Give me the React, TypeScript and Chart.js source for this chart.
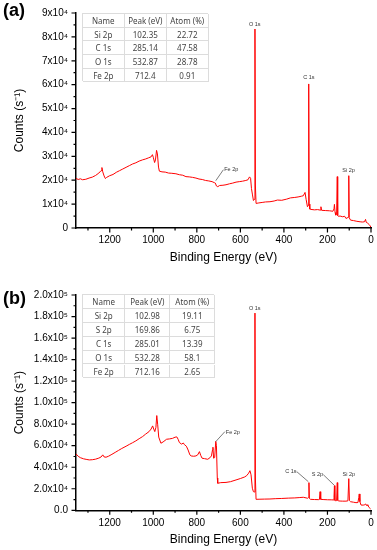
import { useEffect, useRef } from 'react';
import { Chart, registerables } from 'chart.js';

Chart.register(...registerables);

// ---------- Panel (a) spectrum ----------
const energyA = [
  1355, 1345, 1335, 1325, 1310, 1295, 1280, 1265, 1250, 1240, 1236, 1232, 1226, 1220, 1214,
  1200, 1185, 1170, 1155, 1140, 1125, 1110, 1095, 1080, 1065, 1050, 1035, 1021, 1010, 1004,
  1000, 994, 990, 985, 981, 976, 972, 960, 945, 930, 915, 896, 880, 865, 850, 835, 820, 804,
  790, 775, 760, 745, 730, 720, 715, 710, 704, 695, 680, 666, 650, 635, 620, 605, 590, 575,
  565, 558, 553, 549, 545, 540, 536, 533, 531, 528, 515, 500, 485, 464, 445, 430, 410, 387,
  370, 350, 335, 320, 311, 303, 298, 292, 288, 286, 284, 281, 277, 260, 245, 234, 230, 227,
  210, 190, 175, 170, 168, 165, 162, 158, 155, 153, 150, 142, 130, 121, 115, 110, 104, 102,
  100, 94, 80, 65, 50, 40, 30, 25, 22, 15, 8, 4, 0,
];
const countsA = [
  20800, 20300, 20600, 20200, 20400, 20900, 21300, 22000, 23000, 24000, 25300, 23500, 21800, 20700, 21200,
  21900, 22400, 23300, 24000, 24700, 25400, 26100, 26800, 27300, 28000, 28500, 28900, 29400, 29800, 30700,
  29600, 27400, 28500, 32500, 31000, 25500, 23800, 23500, 23400, 23000, 22900, 22700, 22300, 22100, 21500, 21400, 21200, 20900,
  20500, 20300, 19900, 19700, 19400, 19000, 18800, 17600, 17300, 17800, 17900, 18100, 18500, 18800, 19200, 19400, 19600, 19900,
  20200, 21400, 20800, 16500, 14200, 11500, 12000, 83300, 18000, 10300, 10500, 10700, 10900, 11000, 11300, 11700, 11600, 12100,
  12600, 12800, 13000, 13300, 13500, 14900, 12000, 8900, 9500, 60300, 10000, 7900, 7800, 7600, 7700, 7500, 8900, 7400,
  7300, 7200, 7000, 8000, 9900, 6500, 5400, 5600, 21500, 5200, 4900, 5000, 4700, 4900, 4000, 4200, 4500, 21900,
  4300, 3300, 3100, 2800, 2600, 2500, 2600, 3600, 2400, 2000, 1400, 900, 300,
];

// ---------- Panel (b) spectrum ----------
const energyB = [
  1355, 1345, 1335, 1320, 1305, 1294, 1280, 1265, 1250, 1240, 1232, 1226, 1217, 1205, 1190,
  1175, 1160, 1145, 1125, 1110, 1095, 1080, 1065, 1049, 1035, 1020, 1010, 1003, 998, 993,
  988, 984, 980, 975, 965, 955, 939, 926, 912, 900, 892, 886, 880, 870, 862, 857, 848, 840,
  832, 826, 815, 804, 796, 788, 782, 776, 765, 750, 740, 733, 728, 726, 723, 718, 713, 710,
  706, 704, 690, 666, 645, 620, 600, 580, 571, 562, 556, 551, 545, 540, 536, 533, 531, 528,
  510, 490, 464, 440, 410, 380, 350, 330, 311, 291, 287, 285, 283, 278, 260, 240, 237, 234,
  231, 220, 200, 180, 173, 170, 168, 166, 162, 158, 155, 153, 148, 142, 130, 115, 106, 102,
  99, 94, 80, 69, 60, 56, 54, 51, 46, 36, 28, 24, 21, 17, 14, 8, 3, 0,
];
const countsB = [
  52400, 50200, 48900, 47800, 47200, 46800, 47000, 47500, 48500, 49500, 51500, 49600, 49300, 50300, 52000,
  53800, 55600, 57400, 59500, 61200, 62800, 64500, 66500, 68500, 70800, 73000, 75500, 78400, 75500, 73100,
  77000, 88000, 80000, 68000, 62300, 63500, 66000, 66300, 66800, 67900, 68200, 66000, 62900, 61500, 62500, 61000, 59500, 56000,
  51500, 50500, 50200, 50500, 51500, 54500, 51000, 48400, 48000, 47400, 48800, 50500, 56000, 58600, 48400, 49000, 64000, 60000,
  30000, 25100, 25700, 25900, 26600, 28200, 29500, 31000, 32200, 34500, 36800, 33000, 20500, 17300, 17000, 183200, 30000, 10200,
  10300, 10400, 10500, 10800, 11000, 11300, 11500, 11800, 12100, 11200, 12000, 25700, 11000, 10200, 10000, 9900, 10000, 17300,
  10200, 10000, 9800, 9700, 9600, 12000, 22900, 9200, 8900, 9000, 25700, 9200, 8700, 8600, 8500, 8500, 8800, 29400,
  9000, 8000, 7500, 7100, 7200, 12000, 15200, 8000, 4900, 4800, 5200, 5900, 4500, 5100, 4200, 2500, 1500, 900,
];

// ---------- Axis tick labels ----------
const xMajorTicks = [1200, 1000, 800, 600, 400, 200, 0];
const xTickLabels = ['1200', '1000', '800', '600', '400', '200', '0'];
const yMajorTicksA = [0, 10000, 20000, 30000, 40000, 50000, 60000, 70000, 80000, 90000];
const yTickLabelsA = ['0', '1x10⁴', '2x10⁴', '3x10⁴', '4x10⁴', '5x10⁴', '6x10⁴', '7x10⁴', '8x10⁴', '9x10⁴'];
const yMajorTicksB = [0, 20000, 40000, 60000, 80000, 100000, 120000, 140000, 160000, 180000, 200000];
const yTickLabelsB = ['0.0', '2.0x10⁴', '4.0x10⁴', '6.0x10⁴', '8.0x10⁴', '1.0x10⁵', '1.2x10⁵', '1.4x10⁵', '1.6x10⁵', '1.8x10⁵', '2.0x10⁵'];

// ---------- Peak annotations (data coordinates) ----------
const noteTextA = ['O 1s', 'C 1s', 'Si 2p', 'Fe 2p'];
const noteEvA = [534, 285, 103, 674];
const noteCountA = [85400, 62800, 24000, 24700];
const noteAlignA = ['center', 'center', 'center', 'left'];
const leaderFromEvA = [713];
const leaderFromCountA = [19800];
const leaderToEvA = [678];
const leaderToCountA = [24400];

const noteTextB = ['O 1s', 'Fe 2p', 'C 1s', 'S 2p', 'Si 2p'];
const noteEvB = [534, 667, 368, 246, 102];
const noteCountB = [187900, 72500, 35900, 33100, 33100];
const noteAlignB = ['center', 'left', 'center', 'center', 'center'];
const leaderFromEvB = [713, 341, 219];
const leaderFromCountB = [63800, 35900, 33100];
const leaderToEvB = [671, 288, 170];
const leaderToCountB = [73100, 26600, 23500];

// ---------- Inset tables ----------
const tableHeader = ['Name', 'Peak (eV)', 'Atom (%)'];
const tableNamesA = ['Si 2p', 'C 1s', 'O 1s', 'Fe 2p'];
const tablePeaksA = ['102.35', '285.14', '532.87', '712.4'];
const tableAtomsA = ['22.72', '47.58', '28.78', '0.91'];
const tableNamesB = ['Si 2p', 'S 2p', 'C 1s', 'O 1s', 'Fe 2p'];
const tablePeaksB = ['102.98', '169.86', '285.01', '532.28', '712.16'];
const tableAtomsB = ['19.11', '6.75', '13.39', '58.1', '2.65'];

const FONT = '"Liberation Sans", Arial, Helvetica, sans-serif';

const tickMarks = {
  id: 'tickMarks',
  afterDraw(chart: any) {
    const { ctx, chartArea } = chart;
    const xs = chart.scales.x;
    const ys = chart.scales.y;
    ctx.save();
    ctx.strokeStyle = '#000';
    ctx.lineWidth = 1.2;
    ctx.beginPath();
    xs.ticks.forEach((t: any) => {
      const px = xs.getPixelForValue(t.value);
      const len = t.label !== '' ? 4.5 : 2.5;
      ctx.moveTo(px, chartArea.bottom);
      ctx.lineTo(px, chartArea.bottom + len);
    });
    ys.ticks.forEach((t: any) => {
      const py = ys.getPixelForValue(t.value);
      const len = t.label !== '' ? 4.5 : 2.5;
      ctx.moveTo(chartArea.left - len, py);
      ctx.lineTo(chartArea.left, py);
    });
    ctx.stroke();
    ctx.restore();
  },
};

function notesPlugin(
  texts: string[], evs: number[], cnts: number[], aligns: string[],
  fEv: number[], fC: number[], tEv: number[], tC: number[],
) {
  return {
    id: 'peakNotes',
    afterDatasetsDraw(chart: any) {
      const { ctx } = chart;
      const xs = chart.scales.x;
      const ys = chart.scales.y;
      ctx.save();
      ctx.strokeStyle = '#444';
      ctx.lineWidth = 0.7;
      ctx.beginPath();
      fEv.forEach((e, i) => {
        ctx.moveTo(xs.getPixelForValue(e), ys.getPixelForValue(fC[i]));
        ctx.lineTo(xs.getPixelForValue(tEv[i]), ys.getPixelForValue(tC[i]));
      });
      ctx.stroke();
      ctx.fillStyle = '#333';
      ctx.font = `5.5px ${FONT}`;
      ctx.textBaseline = 'middle';
      texts.forEach((t, i) => {
        ctx.textAlign = aligns[i] as CanvasTextAlign;
        ctx.fillText(t, xs.getPixelForValue(evs[i]), ys.getPixelForValue(cnts[i]));
      });
      ctx.restore();
    },
  };
}

function buildChart(canvas: HTMLCanvasElement, o: any) {
  return new Chart(canvas, {
    type: 'line',
    data: {
      datasets: [{
        data: o.energies.map((e: number, i: number) => ({ x: e, y: o.counts[i] })),
        borderColor: '#ff0000',
        borderWidth: 1,
        pointRadius: 0,
        tension: 0,
        fill: false,
      }],
    },
    options: {
      responsive: false,
      animation: false,
      devicePixelRatio: 1,
      layout: { padding: { top: o.padTop, right: 6, left: 0, bottom: 0 } },
      plugins: { legend: { display: false }, tooltip: { enabled: false } },
      scales: {
        x: {
          type: 'linear',
          reverse: true,
          min: 0,
          max: 1355,
          afterFit: (s: any) => {
            s.height = o.xAxisH;
            s.paddingLeft = 0;
            s.paddingRight = 0;
          },
          grid: { display: false, drawTicks: false },
          border: { display: true, color: '#000', width: 1.5 },
          ticks: {
            stepSize: 100,
            includeBounds: false,
            autoSkip: false,
            maxRotation: 0,
            padding: o.xTickPad,
            color: '#000',
            font: { family: FONT, size: 10 },
            callback: (v: any) => {
              const i = xMajorTicks.indexOf(Number(v));
              return i >= 0 ? xTickLabels[i] : '';
            },
          },
          title: {
            display: true,
            text: 'Binding Energy (eV)',
            color: '#000',
            font: { family: FONT, size: 12 },
            padding: { top: 0, bottom: o.xTitlePad },
          },
        },
        y: {
          min: 0,
          max: o.yMax,
          afterFit: (s: any) => {
            s.width = 76;
            s.paddingTop = 0;
            s.paddingBottom = 0;
          },
          grid: { display: false, drawTicks: false },
          border: { display: true, color: '#000', width: 1.5 },
          ticks: {
            stepSize: o.yStep,
            autoSkip: false,
            padding: 8,
            color: '#000',
            font: { family: FONT, size: 10 },
            callback: (v: any) => {
              const i = o.yMajors.indexOf(Number(v));
              return i >= 0 ? o.yLabels[i] : '';
            },
          },
          title: {
            display: true,
            text: 'Counts (s⁻¹)',
            color: '#000',
            font: { family: FONT, size: 12 },
            padding: { top: 12, bottom: 0 },
          },
        },
      },
    },
    plugins: [tickMarks, o.notes],
  } as any);
}

function InfoTable({ left, top, colW, rowH, names, peaks, atoms }: any) {
  const rows = [tableHeader, ...names.map((n: string, i: number) => [n, peaks[i], atoms[i]])];
  const total = colW.reduce((a: number, b: number) => a + b, 0);
  const cells: any[] = [];
  rows.forEach((r: string[], ri: number) => {
    let x = 0;
    r.forEach((c, ci) => {
      cells.push(
        <div key={`${ri}-${ci}`} style={{
          position: 'absolute', left: x, top: ri * rowH, width: colW[ci], height: rowH,
          boxSizing: 'border-box', borderRight: '1px solid #dcdcdc', borderBottom: '1px solid #dcdcdc',
          textAlign: 'center', lineHeight: `${rowH}px`, whiteSpace: 'nowrap',
        }}>{c}</div>,
      );
      x += colW[ci];
    });
  });
  return (
    <div style={{
      position: 'absolute', left, top, width: total, height: rows.length * rowH,
      boxSizing: 'border-box', borderLeft: '1px solid #dcdcdc', borderTop: '1px solid #dcdcdc',
      background: '#fff', color: '#444', fontFamily: '"Noto Sans", "Open Sans", sans-serif', fontSize: 8,
    }}>{cells}</div>
  );
}

export default function App() {
  const refA = useRef<HTMLCanvasElement>(null);
  const refB = useRef<HTMLCanvasElement>(null);

  useEffect(() => {
    const a = buildChart(refA.current!, {
      energies: energyA, counts: countsA, padTop: 13, xAxisH: 47, xTickPad: 6, xTitlePad: 10,
      yMax: 90000, yStep: 5000, yMajors: yMajorTicksA, yLabels: yTickLabelsA,
      notes: notesPlugin(noteTextA, noteEvA, noteCountA, noteAlignA, leaderFromEvA, leaderFromCountA, leaderToEvA, leaderToCountA),
    });
    const b = buildChart(refB.current!, {
      energies: energyB, counts: countsB, padTop: 20, xAxisH: 39.7, xTickPad: 7, xTitlePad: 3,
      yMax: 200000, yStep: 10000, yMajors: yMajorTicksB, yLabels: yTickLabelsB,
      notes: notesPlugin(noteTextB, noteEvB, noteCountB, noteAlignB, leaderFromEvB, leaderFromCountB, leaderToEvB, leaderToCountB),
    });
    return () => { a.destroy(); b.destroy(); };
  }, []);

  return (
    <div style={{ position: 'absolute', left: 0, top: 0, width: 377, height: 550, background: '#fff', overflow: 'hidden' }}>
      <canvas ref={refA} width={377} height={275} style={{ position: 'absolute', left: 0, top: 0, width: 377, height: 275 }} />
      <canvas ref={refB} width={377} height={275} style={{ position: 'absolute', left: 0, top: 275, width: 377, height: 275 }} />
      <div style={{ position: 'absolute', left: 3, top: 0, fontFamily: FONT, fontWeight: 'bold', fontSize: 18, color: '#000' }}>(a)</div>
      <div style={{ position: 'absolute', left: 3, top: 288, fontFamily: FONT, fontWeight: 'bold', fontSize: 18, color: '#000' }}>(b)</div>
      <InfoTable left={82} top={13} colW={[41.6, 42.4, 41.6]} rowH={13.66}
        names={tableNamesA} peaks={tablePeaksA} atoms={tableAtomsA} />
      <InfoTable left={82} top={294} colW={[42.3, 45, 45]} rowH={13.9}
        names={tableNamesB} peaks={tablePeaksB} atoms={tableAtomsB} />
    </div>
  );
}
